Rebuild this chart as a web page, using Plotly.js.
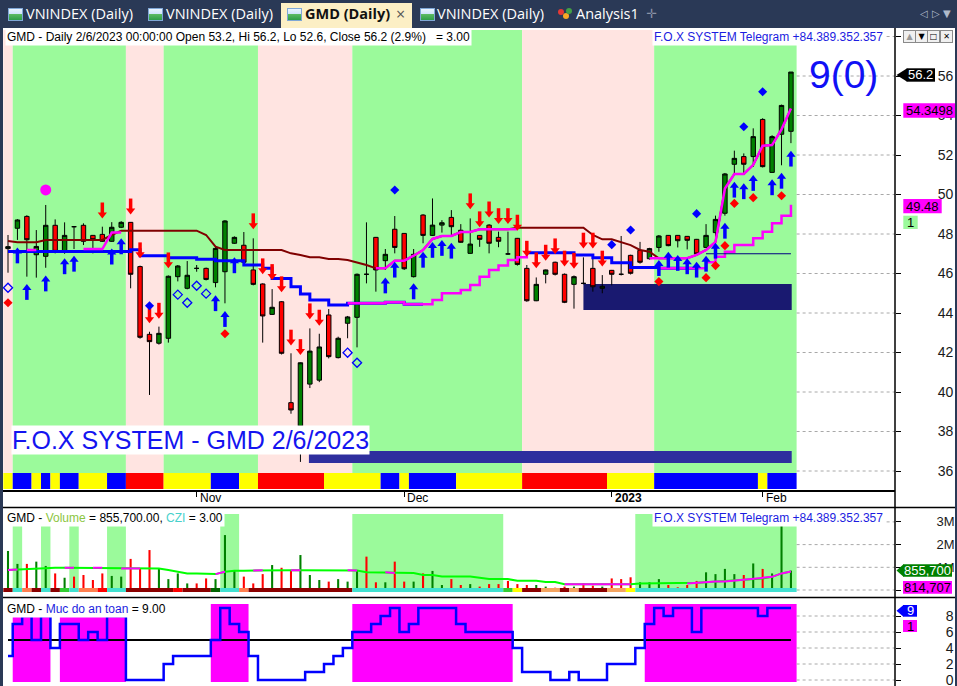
<!DOCTYPE html>
<html>
<head>
<meta charset="utf-8">
<script src="https://cdn.plot.ly/plotly-3.0.1.min.js"></script>
<style>
html,body{margin:0;padding:0;}
body{width:957px;height:686px;overflow:hidden;position:relative;background:#fff;}
#chart{position:absolute;left:0;top:0;width:957px;height:686px;}
#tabs{position:absolute;left:0;top:0;width:957px;height:28px;background:#2A3956;z-index:10;font-family:"Open Sans","Noto Sans",sans-serif;font-size:14.5px;color:#fff;}
.t{position:absolute;top:0;height:28px;line-height:28px;white-space:nowrap;}
.ic{position:absolute;top:8px;width:13px;height:11px;border:1px solid #7FA7D6;background:linear-gradient(to bottom,#EAF4FF 0%,#CFE4FA 45%,#5DBB63 46%,#2E9E48 100%);}
#act{position:absolute;left:281px;top:3px;width:131px;height:25px;background:#FCEFC5;}
.edge{position:absolute;background:#2A3956;z-index:10;}
.btn{position:absolute;top:30px;width:11px;height:11px;border:1px solid #8A8A8A;background:#F0F0F0;font:8px "DejaVu Sans",sans-serif;line-height:11px;text-align:center;color:#000;z-index:10;}
.dot{position:absolute;width:6px;height:6px;border-radius:3px;}
</style>
</head>
<body>
<div id="chart"></div>
<div id="tabs">
  <div class="ic" style="left:8px"></div>
  <div class="t" style="left:26px">VNINDEX (Daily)</div>
  <div class="ic" style="left:148px"></div>
  <div class="t" style="left:166px">VNINDEX (Daily)</div>
  <div id="act"></div>
  <div class="ic" style="left:287px"></div>
  <div class="t" style="left:305px;color:#111;font-weight:700">GMD (Daily)</div>
  <div class="t" style="left:396px;color:#555;font-size:16px">×</div>
  <div class="ic" style="left:420px"></div>
  <div class="t" style="left:437px">VNINDEX (Daily)</div>
  <div class="dot" style="left:558px;top:9px;background:#E53935"></div>
  <div class="dot" style="left:563px;top:13px;background:#F9A825"></div>
  <div class="dot" style="left:566px;top:8px;background:#43A047"></div>
  <div class="t" style="left:576px">Analysis1</div>
  <div class="t" style="left:646px;color:#8A93A6;font-size:13px;font-family:'DejaVu Sans'">✛</div>
  <div class="t" style="left:920px;color:#B0BACB;font-size:10px;font-family:'DejaVu Sans'">◁</div>
  <div class="t" style="left:932px;color:#B0BACB;font-size:10px;font-family:'DejaVu Sans'">▷</div>
  <div class="t" style="left:943px;color:#B0BACB;font-size:10px;font-family:'DejaVu Sans'">▼</div>
</div>
<div class="edge" style="left:0;top:28px;width:3px;height:658px"></div>
<div class="edge" style="left:955px;top:28px;width:2px;height:658px"></div>
<div class="btn" style="left:903px;color:#999">▲</div>
<div class="btn" style="left:915px">▼</div>
<div class="btn" style="left:927px">□</div>
<div class="btn" style="left:940px">✕</div>
<script>
// ================= DATA =================
const tickBars   = [20, 42, 64, 80];
const tickLabels = ['Nov', 'Dec', '<b>2023</b>', 'Feb'];

const openP  = [47.26,48.29,48.89,46.95,46.87,48.44,47.12,48.37,48.44,47.93,
                47.98,47.63,48.34,48.59,46.35,42.92,42.47,42.72,45.84,45.25,
                46.26,46.26,45.54,46.09,47.53,47.43,46.18,45.47,43.93,44.57,
                39.46,38.28,40.40,40.60,43.90,41.74,43.48,43.78,45.96,47.83,
                46.65,48.24,48.03,45.84,48.96,47.93,48.45,48.84,48.19,47.02,
                47.93,48.45,47.83,46.99,47.78,46.26,44.62,45.96,46.57,45.96,
                45.45,45.50,46.26,45.25,46.16,45.96,46.92,47.17,46.75,47.32,
                47.93,47.93,47.88,47.73,47.32,48.07,49.05,51.53,51.92,51.92,
                53.80,51.12,53.05,53.20];
const highP  = [47.95,48.75,48.95,48.20,49.47,48.74,48.59,48.40,48.54,47.95,
                48.37,48.60,48.65,48.60,46.40,43.05,43.31,45.90,46.43,46.63,
                46.43,46.30,47.36,48.70,47.88,48.10,47.78,45.50,45.21,44.60,
                41.96,41.50,43.22,42.95,44.20,42.80,43.85,46.00,48.59,47.85,
                47.24,48.91,48.05,47.24,49.00,49.80,48.70,49.21,48.50,48.79,
                47.95,48.50,48.12,48.12,47.80,46.43,45.80,46.20,46.60,46.00,
                45.90,46.82,46.82,45.92,46.18,47.90,46.95,47.60,47.30,47.95,
                47.95,47.95,47.90,47.75,48.50,48.93,51.09,52.22,52.08,53.35,
                53.86,53.00,54.55,56.20];
const lowP   = [46.04,47.70,45.84,45.79,46.29,47.02,47.00,47.24,47.44,47.02,
                47.60,47.60,48.30,45.25,42.70,39.85,42.40,42.50,45.60,45.20,
                46.09,45.65,45.30,44.49,47.50,46.50,45.40,42.50,43.90,41.90,
                38.90,36.46,40.20,40.50,41.70,41.70,42.72,42.26,45.50,45.08,
                46.18,47.02,46.18,45.80,47.53,47.90,48.07,47.93,47.55,47.00,
                47.35,47.02,47.33,46.95,46.40,44.57,44.60,45.50,45.90,44.50,
                44.22,45.45,45.08,45.00,45.40,45.90,45.95,46.50,46.70,47.10,
                47.38,47.32,47.22,46.95,47.30,47.87,48.93,51.04,50.99,51.40,
                51.37,51.10,51.48,52.60];
const closeP = [47.36,48.71,47.71,47.37,48.44,47.12,47.93,48.37,47.63,47.71,
                47.63,48.34,48.59,45.96,42.77,42.55,42.97,45.86,46.38,45.91,
                46.26,45.70,47.27,48.66,47.83,46.57,45.45,43.85,44.29,41.96,
                39.09,41.48,42.07,42.28,41.79,42.72,43.80,45.96,45.96,46.18,
                46.97,47.32,46.24,46.97,47.93,48.45,48.57,48.37,47.58,47.49,
                47.73,47.53,47.63,46.99,46.46,44.62,45.45,46.18,45.96,44.54,
                45.84,45.50,45.33,45.35,45.96,45.96,46.01,46.57,47.26,47.90,
                47.41,47.66,47.68,46.99,47.93,48.74,51.04,51.83,51.53,52.93,
                51.41,52.93,54.51,56.20];

// indicator lines on the price pane (null = not drawn)
const n_ = null;
const maroonLine = [47.64,47.58,47.58,47.58,47.70,47.70,47.70,47.70,47.70,47.70,
                    47.70,47.95,48.17,48.17,48.17,48.17,48.17,48.17,48.17,48.17,
                    48.17,47.95,47.36,47.19,47.19,47.19,47.19,47.19,47.19,47.19,
                    47.02,46.94,46.82,46.82,46.73,46.73,46.68,46.55,46.43,46.26,
                    46.26,46.65,46.65,46.90,47.19,47.75,47.90,47.90,48.10,48.10,
                    48.24,48.24,48.24,48.24,48.32,48.32,48.32,48.32,48.32,48.32,
                    48.32,48.32,47.95,47.73,47.73,47.60,47.44,47.19,47.10,46.77,
                    46.77,46.77,46.77,46.94,47.19,47.60,50.30,51.04,51.04,51.50,
                    52.47,52.50,53.30,54.3498];
const blueTrail  = [47.12,47.12,47.12,47.12,47.12,47.12,47.12,47.12,47.12,47.12,
                    47.12,47.12,47.12,47.20,46.90,46.90,46.90,46.80,46.80,46.80,
                    46.72,46.72,46.65,46.65,46.65,46.43,46.43,46.26,45.75,45.75,
                    45.33,44.96,44.66,44.66,44.40,44.40,44.49,44.49,44.49,44.49,
                    44.54,44.54,44.44,44.44,44.44,n_,n_,n_,n_,n_,
                    n_,n_,n_,n_,n_,47.05,47.05,47.05,47.05,47.05,
                    46.94,46.94,46.80,46.80,46.55,46.55,46.30,46.30,46.30,46.26,
                    46.26,46.26,46.26,46.26,n_,n_,n_,n_,n_,n_,
                    n_,n_,n_,n_];
const upperMag   = [n_,n_,47.19,47.19,n_,n_,n_,n_,47.24,47.24,
                    47.24,48.07,48.07,n_,n_,n_,n_,n_,n_,n_,
                    n_,n_,n_,n_,n_,n_,n_,n_,n_,n_,
                    n_,n_,n_,n_,n_,n_,n_,n_,n_,46.26,
                    46.26,46.65,46.65,46.90,47.19,47.75,47.90,47.90,48.10,48.10,
                    48.24,48.24,48.24,48.24,48.24,n_,n_,n_,n_,n_,
                    n_,n_,n_,n_,n_,n_,n_,n_,46.77,46.77,
                    46.77,46.77,46.77,46.94,47.19,47.60,50.30,51.04,51.04,51.50,
                    52.47,52.50,53.30,54.3498];
const slowMag    = [n_,n_,n_,n_,n_,n_,n_,n_,n_,n_,
                    n_,n_,n_,n_,n_,n_,n_,n_,n_,n_,
                    n_,n_,n_,n_,n_,n_,n_,n_,n_,n_,
                    n_,n_,n_,n_,n_,n_,44.49,44.49,44.49,44.49,
                    44.54,44.54,44.44,44.44,44.44,44.66,45.00,45.00,45.16,45.42,
                    45.84,46.18,46.40,46.68,46.82,46.94,n_,n_,n_,n_,
                    n_,n_,n_,n_,n_,n_,n_,n_,n_,46.26,
                    46.26,46.26,46.26,46.26,46.57,46.85,47.10,47.44,47.44,47.78,
                    48.12,48.54,48.93,49.48];
const navyLine   = [n_,n_,n_,n_,n_,n_,n_,n_,n_,n_,
                    n_,n_,n_,n_,n_,n_,n_,n_,n_,n_,
                    n_,n_,n_,n_,n_,n_,n_,n_,n_,n_,
                    n_,n_,n_,n_,n_,n_,n_,n_,n_,n_,
                    n_,n_,n_,n_,n_,n_,n_,n_,n_,n_,
                    n_,n_,n_,n_,n_,n_,n_,n_,n_,n_,
                    n_,n_,n_,n_,n_,n_,n_,n_,n_,n_,
                    n_,n_,n_,n_,47.00,47.00,47.00,47.00,47.00,47.00,
                    47.00,47.00,47.00,47.00];

// signals (bar index + price of the arrow tip / marker)
const buyBars  = [1,2,4,6,7,11,12,22,23,24,40,41,43,44,45,46,47,69,70,71,72,73,74,75,76,77,78,79,81,82,83];
const buyTip   = [47.32,45.47,45.90,46.77,46.90,47.26,47.78,44.90,44.10,46.82,45.80,46.60,45.50,47.10,47.60,47.70,47.56,
                  46.68,47.10,46.94,46.77,46.60,46.90,47.56,48.57,50.65,50.57,50.99,50.77,51.10,52.22];
const sellBars = [10,13,14,15,16,17,26,27,28,29,30,31,32,33,49,50,51,52,53,54,55,56,57,58,59,60,61,62,63];
const sellTip  = [48.79,48.99,46.77,43.48,43.71,46.26,48.24,45.96,45.67,45.05,42.35,41.87,43.68,43.36,
                  49.25,48.34,48.84,48.50,48.50,48.17,46.85,46.26,46.65,46.97,46.35,46.24,47.26,47.26,46.35];
const openDiaBars = [0,18,19,20,21,36,37];
const openDiaY    = [45.28,44.93,44.52,45.38,44.98,41.99,41.48];
const blueDiaBars = [15,41,64,66,73,78,80];
const blueDiaY    = [44.37,50.23,47.46,48.20,49.03,53.43,55.20];
const redDiaBars  = [0,23,31,69,74,75,76,77,79,82];
const redDiaY     = [44.52,42.95,34.93,45.59,45.79,46.40,47.41,49.55,49.84,49.94];
const dotBars = [4];
const dotY    = [50.23];

// zones: [fromBar, toBar, lowPrice, highPrice]
const zoneBox = [61, 83.08, 44.15, 45.47];
const zoneBar = [31.9, 83.08, 36.40, 37.01];

// pane background states (runs of bars)
const trendRuns = [[0,0,'P'],[1,12,'G'],[13,16,'P'],[17,26,'G'],[27,36,'P'],[37,54,'G'],[55,68,'P'],[69,83,'G']];
const stripRuns = [[0,0,'Y'],[1,2,'B'],[3,3,'Y'],[4,4,'B'],[5,5,'Y'],[6,7,'B'],[8,10,'Y'],[11,12,'B'],[13,16,'R'],
                   [17,21,'Y'],[22,24,'B'],[25,26,'Y'],[27,33,'R'],[34,39,'Y'],[40,41,'B'],[42,42,'Y'],[43,47,'B'],
                   [48,54,'Y'],[55,63,'R'],[64,68,'Y'],[69,79,'B'],[80,80,'Y'],[81,83,'B']];

// volume pane
const volume = [1720000,1150000,1150000,1250000,1060000,730000,540000,590000,660000,440000,
                730000,620000,590000,1370000,930000,1760000,950000,480000,730000,290000,
                290000,510000,480000,2420000,880000,590000,290000,700000,1100000,980000,
                840000,1540000,660000,440000,370000,480000,370000,840000,1470000,340000,
                340000,1250000,370000,370000,730000,840000,220000,480000,220000,260000,
                150000,260000,260000,400000,260000,220000,220000,150000,100000,150000,
                150000,290000,190000,150000,510000,480000,560000,340000,340000,480000,
                220000,120000,220000,400000,780000,700000,930000,700000,660000,1170000,
                930000,730000,2890000,855700];
const volUp = 'GGRGGRGRRRRGGRRRGGGGRRGGGRRRGRRGGGRGGGRRGRRGRGGRRGRRRRRRGGRRGRRGRRRGGGRRRRGGGGRGRGGG';
const volMA = [880000,900000,930000,950000,980000,980000,980000,980000,980000,980000,
               980000,980000,950000,950000,950000,950000,950000,880000,800000,730000,
               730000,720000,700000,800000,850000,850000,860000,870000,870000,870000,
               870000,870000,870000,870000,870000,870000,870000,860000,780000,780000,
               780000,750000,780000,750000,660000,660000,590000,590000,590000,590000,
               540000,480000,480000,480000,410000,410000,410000,350000,350000,250000,
               250000,250000,250000,250000,250000,250000,250000,290000,290000,290000,
               290000,290000,290000,320000,340000,370000,370000,410000,440000,480000,
               510000,580000,730000,814707];
const volMaUpRuns = [[0,1],[6,7],[9,10],[12,14],[22,23],[26,27],[30,31],[36,37],[40,41],[59,66],[72,83]];
const volBandRuns = [[1,1],[4,4],[7,7],[11,12],[23,24],[37,52],[67,83]];
const volStripRuns = [[0,0,'d'],[1,1,'c'],[2,2,'o'],[3,3,'d'],[4,4,'c'],[5,5,'d'],[6,6,'l'],[7,7,'c'],[8,9,'o'],
                      [10,10,'r'],[11,12,'c'],[13,17,'d'],[18,18,'r'],[19,21,'d'],[22,22,'g'],[23,24,'c'],[25,25,'o'],
                      [26,36,'d'],[37,52,'c'],[53,53,'l'],[54,54,'y'],[55,56,'d'],[57,58,'s'],[59,59,'d'],[60,60,'s'],
                      [61,63,'d'],[64,65,'s'],[66,66,'y'],[67,83,'c']];

// "Muc do an toan" pane
const safety = [3,7,8,5,8,4,7,7,5,6, 5,8,8,0,0,0,0,2,3,3, 3,3,5,9,7,6,3,0,0,0,
                0,0,1,1,2,3,4,6,6,7, 8,9,6,7,9,9,9,9,7,6, 6,6,6,6,4,1,1,1,0,0,
                1,0,0,0,2,2,2,4,7,9, 8,9,9,6,9,9,9,9,9,9, 8,9,9,9];
const safeLevel = 5;

const priceTicks = [36,38,40,42,44,46,48,50,52,54,56,58];
const priceTickText = ['36','38','40','42','44','46','48','50','52','54','56',''];
const volTicks = [0,1000000,2000000,3000000];
const volTickText = ['','1M','2M','3M'];
const safeTicks = [0,2,4,6,8];

// ================= LAYOUT GEOMETRY =================
const FONT = '"Liberation Sans", Arial, sans-serif';
const W = 957, H = 686, ML = 3, MR = 62, MT = 28, MB = 0;
const PW = W - ML - MR, PH = H - MT - MB;
const px = x => (x - ML) / PW;
const py = y => (H - MB - y) / PH;
const xRange = [-0.53, 94.03];
const pTop = 30, pBot = 490;
const priceRange = [35.038, 58.329];
const vTop = 508, vBot = 597;
const volRange = [-308000, 3612000];
const iTop = 598, iBot = 686;
const indRange = [-0.75, 10.25];
const ppu = (pBot - pTop) / (priceRange[1] - priceRange[0]);
const dataEnd = 83.6;

const idx = openP.map((_, i) => i);

const C = {
  G:'#9BFA9B', P:'#FFE4E1', Y:'#FFFF00', B:'#0000FF', R:'#FF0000',
  d:'#8B0000', c:'#40E0D0', o:'#FF7F50', l:'#32CD32', r:'#FF0000', g:'#006400', y:'#FFFF00', s:'#F4A460'
};

const shapes = [];
trendRuns.forEach(([a,b,s]) => shapes.push({type:'rect', layer:'below', xref:'x', yref:'y domain',
  x0:a-0.5, x1:(b===83?dataEnd:b+0.5), y0:(pBot-473)/(pBot-pTop), y1:1, fillcolor:C[s], line:{width:0}}));
stripRuns.forEach(([a,b,s]) => shapes.push({type:'rect', layer:'below', xref:'x', yref:'y domain',
  x0:a-0.5, x1:(b===83?dataEnd:b+0.5), y0:(pBot-489)/(pBot-pTop), y1:(pBot-473)/(pBot-pTop), fillcolor:C[s], line:{width:0}}));
shapes.push({type:'rect', layer:'below', xref:'x', yref:'y', x0:zoneBox[0], x1:zoneBox[1], y0:zoneBox[2], y1:zoneBox[3], fillcolor:'#191970', line:{width:0}});
shapes.push({type:'rect', layer:'below', xref:'x', yref:'y', x0:zoneBar[0], x1:zoneBar[1], y0:zoneBar[2], y1:zoneBar[3], fillcolor:'#2E2E9E', line:{width:0}});
volBandRuns.forEach(([a,b]) => shapes.push({type:'rect', layer:'below', xref:'x', yref:'y2 domain',
  x0:a-0.5, x1:(b===83?dataEnd:b+0.5), y0:(vBot-588)/(vBot-vTop), y1:(vBot-514)/(vBot-vTop), fillcolor:C.G, line:{width:0}}));
let runStart = null;
for (let i = 0; i <= safety.length; i++) {
  const on = i < safety.length && safety[i] >= safeLevel;
  if (on && runStart === null) runStart = i;
  if (!on && runStart !== null) {
    shapes.push({type:'rect', layer:'below', xref:'x', yref:'y3 domain', x0:runStart-0.5, x1:(i-1===83?dataEnd:i-0.5),
      y0:(iBot-682)/(iBot-iTop), y1:(iBot-604)/(iBot-iTop), fillcolor:'#FF00FF', line:{width:0}});
    runStart = null;
  }
}
shapes.push({type:'line', layer:'below', xref:'x', yref:'y3', x0:0, x1:83, y0:safeLevel, y1:safeLevel, line:{color:'#000', width:2}});
const grid = (yr, v) => ({type:'line', layer:'below', xref:'x', yref:yr, x0:dataEnd, x1:xRange[1], y0:v, y1:v, line:{color:'#A8A8A8', width:1, dash:'dot'}});
priceTicks.forEach(v => shapes.push(grid('y', v)));
volTicks.forEach(v => shapes.push(grid('y2', v)));
safeTicks.forEach(v => shapes.push(grid('y3', v)));
shapes.push({type:'line', xref:'paper', yref:'paper', x0:1, x1:1, y0:0, y1:py(28), line:{color:'#000', width:1.5}});
shapes.push({type:'line', xref:'paper', yref:'paper', x0:px(3), x1:px(957), y0:py(507.5), y1:py(507.5), line:{color:'#000', width:1.5}});
shapes.push({type:'line', xref:'paper', yref:'paper', x0:px(3), x1:px(957), y0:py(597.5), y1:py(597.5), line:{color:'#000', width:1.5}});

const tags = [
  {x0:906.7, x1:935, y0:68.3, y1:81.7, bg:'#000', fg:'#fff', text:closeP[83].toFixed(1), arrow:true},
  {x0:903.3, x1:955, y0:103.3, y1:117.7, bg:'#FF00FF', fg:'#000', text:String(upperMag[83])},
  {x0:903.3, x1:941.7, y0:199, y1:213.3, bg:'#FF00FF', fg:'#000', text:String(slowMag[83])},
  {x0:903.3, x1:917.7, y0:215.7, y1:229, bg:'#9BFA9B', fg:'#000', text:'1'},
  {x0:903, x1:952, y0:564.3, y1:576.7, bg:'#008000', fg:'#fff', text:volume[83].toLocaleString('en-US'), arrow:true},
  {x0:903, x1:952, y0:581, y1:593.7, bg:'#FF00FF', fg:'#000', text:volMA[83].toLocaleString('en-US')},
  {x0:903, x1:917, y0:605, y1:616.7, bg:'#0000FF', fg:'#fff', text:String(safety[83]), arrow:true},
  {x0:903, x1:917, y0:620, y1:632, bg:'#FF00FF', fg:'#000', text:'1'}
];
const annotations = [];
tags.forEach(t => {
  shapes.push({type:'rect', xref:'paper', yref:'paper', x0:px(t.x0), x1:px(t.x1), y0:py(t.y1), y1:py(t.y0), fillcolor:t.bg, line:{width:0}});
  if (t.arrow) {
    const yc = (t.y0 + t.y1) / 2, h = (t.y1 - t.y0) / 2;
    shapes.push({type:'path', xref:'paper', yref:'paper',
      path:`M ${px(896.5)},${py(yc)} L ${px(t.x0+0.5)},${py(yc-h)} L ${px(t.x0+0.5)},${py(yc+h)} Z`, fillcolor:t.bg, line:{width:0}});
  }
  annotations.push({xref:'paper', yref:'paper', x:px((t.x0+t.x1)/2), y:py((t.y0+t.y1)/2), xanchor:'center', yanchor:'middle',
    text:t.text, showarrow:false, font:{family:FONT, size:13, color:t.fg}});
});

tickBars.forEach((b, i) => annotations.push({xref:'x', yref:'paper', x:b, y:py(489), xanchor:'left', yanchor:'top', xshift:1,
  text:tickLabels[i], showarrow:false, font:{family:FONT, size:12, color:'#000'}}));

const hdr = (x, y, text, extra) => Object.assign({xref:'paper', yref:'paper', x:px(x), y:py(y), xanchor:'left', yanchor:'top',
  text, showarrow:false, bgcolor:'#fff', borderpad:1, font:{family:FONT, size:12, color:'#000'}}, extra || {});
annotations.push(hdr(5, 28, 'GMD - Daily 2/6/2023 00:00:00 Open 53.2, Hi 56.2, Lo 52.6, Close 56.2 (2.9%)\u00A0\u00A0\u00A0= 3.00'));
annotations.push(hdr(652, 28, 'F.O.X SYSTEM Telegram +84.389.352.357', {font:{family:FONT, size:12, color:'#1C1CE0'}}));
annotations.push(hdr(5, 509, 'GMD - <span style="color:#8CC63F">Volume</span> = 855,700.00, <span style="color:#48D1CC">CZI</span> = 3.00'));
annotations.push(hdr(652, 509, 'F.O.X SYSTEM Telegram +84.389.352.357', {font:{family:FONT, size:12, color:'#1C1CE0'}}));
annotations.push(hdr(5, 600, 'GMD - <span style="color:#1C1CE0">Muc do an toan</span> = 9.00'));
annotations.push(hdr(11, 425, 'F.O.X SYSTEM - GMD 2/6/2023', {borderpad:0, font:{family:FONT, size:25, color:'#1414F0'}}));
annotations.push({xref:'paper', yref:'paper', x:px(807), y:py(75), xanchor:'left', yanchor:'middle', text:'9(0)', showarrow:false,
  font:{family:FONT, size:39, color:'#1010F5'}});

// ================= TRACES =================
const line = (y, color, width, shape) => ({type:'scatter', mode:'lines', x:idx, y, line:{color, width, shape:shape||'linear'}, hoverinfo:'skip', yaxis:'y'});
const traces = [];
traces.push(line(maroonLine, '#800000', 2));
traces.push(line(blueTrail, '#0000FF', 3, 'hv'));
traces.push(line(slowMag, '#FF00FF', 2.5, 'hv'));
traces.push(line(upperMag, '#FF00FF', 2.5));
traces.push(line(navyLine, '#000080', 1));

traces.push({type:'candlestick', x:idx, open:openP, high:highP, low:lowP, close:closeP, whiskerwidth:0,
  increasing:{line:{color:'#000', width:1}, fillcolor:'#008000'},
  decreasing:{line:{color:'#000', width:1}, fillcolor:'#FF0000'}, hoverinfo:'skip', yaxis:'y'});

const mk = (x, y, symbol, size, color, extra) => Object.assign({type:'scatter', mode:'markers', x, y, hoverinfo:'skip', yaxis:'y',
  marker:{symbol, size, color, line:{width:0}}}, extra || {});
traces.push(mk(buyBars, buyTip.map(p => p - 4/ppu), 'triangle-up', 8, '#0000FF'));
traces.push(mk(buyBars, buyTip.map(p => p - 10.3/ppu), 'line-ns', 8, '#0000FF', {marker:{symbol:'line-ns', size:8, color:'#0000FF', line:{width:3.5, color:'#0000FF'}}}));
traces.push(mk(sellBars, sellTip.map(p => p + 4/ppu), 'triangle-down', 8, '#FF0000'));
traces.push(mk(sellBars, sellTip.map(p => p + 10.3/ppu), 'line-ns', 8, '#FF0000', {marker:{symbol:'line-ns', size:8, color:'#FF0000', line:{width:3.5, color:'#FF0000'}}}));
traces.push(mk(openDiaBars, openDiaY, 'diamond-open', 7, '#0000FF', {marker:{symbol:'diamond-open', size:7, color:'#0000FF', line:{width:1.3, color:'#0000FF'}}}));
traces.push(mk(blueDiaBars, blueDiaY, 'diamond', 7, '#0000FF'));
traces.push(mk(redDiaBars, redDiaY, 'diamond', 7, '#FF0000', {cliponaxis:false}));
traces.push(mk(dotBars, dotY, 'circle', 11, '#FF00FF'));

traces.push({type:'bar', x:idx, y:volume, width:0.22, marker:{color:volUp.split('').map(c => c === 'G' ? '#008000' : '#FF0000'), line:{width:0}},
  hoverinfo:'skip', yaxis:'y2'});
traces.push({type:'scatter', mode:'lines', x:idx, y:volMA, line:{color:'#00FF00', width:2}, hoverinfo:'skip', yaxis:'y2'});
const maMag = volMA.map(() => null);
volMaUpRuns.forEach(([a,b]) => { for (let i = a; i <= b; i++) maMag[i] = volMA[i]; });
traces.push({type:'scatter', mode:'lines', x:idx, y:maMag, line:{color:'#FF00FF', width:2}, hoverinfo:'skip', yaxis:'y2'});

traces.push({type:'scatter', mode:'lines', x:idx, y:safety, line:{color:'#0000FF', width:2.5, shape:'hvh'}, hoverinfo:'skip', yaxis:'y3'});

volStripRuns.forEach(([a,b,s]) => shapes.push({type:'rect', layer:'above', xref:'x', yref:'y2 domain',
  x0:a-0.5, x1:(b===83?dataEnd:b+0.5), y0:(vBot-592)/(vBot-vTop), y1:(vBot-588)/(vBot-vTop), fillcolor:C[s], line:{width:0}}));

const yax = (dom, range, tickvals, ticktext, standoff, fs) => ({domain:dom, range, side:'right', anchor:'x', showgrid:false, zeroline:false,
  showline:false, ticks:'outside', ticklen:5, tickwidth:1, tickcolor:'#000', tickvals, ticktext, ticklabeloverflow:'allow',
  tickfont:{family:FONT, size:fs, color:'#1a1a1a'}, ticklabelstandoff:standoff, fixedrange:true});

const layout = {
  width:W, height:H, margin:{l:ML, r:MR, t:MT, b:MB, pad:0},
  paper_bgcolor:'#fff', plot_bgcolor:'#fff', showlegend:false, hovermode:false, boxgap:0.33,
  font:{family:FONT, size:12, color:'#000'},
  xaxis:{range:xRange, domain:[0,1], anchor:'y', showgrid:false, zeroline:false, showline:true, linecolor:'#000', linewidth:1.5,
    ticks:'outside', ticklen:5, tickcolor:'#000', tickvals:tickBars, showticklabels:false, rangeslider:{visible:false}, fixedrange:true},
  yaxis: yax([py(pBot), py(pTop)], priceRange, priceTicks, priceTickText, 34, 14),
  yaxis2: yax([py(vBot), py(vTop)], volRange, volTicks, volTickText, 33, 13),
  yaxis3: yax([py(iBot), py(iTop)], indRange, safeTicks, safeTicks.map(String), 42, 14),
  shapes, annotations
};

Plotly.newPlot('chart', traces, layout, {staticPlot:true, displayModeBar:false});
</script>
</body>
</html>
